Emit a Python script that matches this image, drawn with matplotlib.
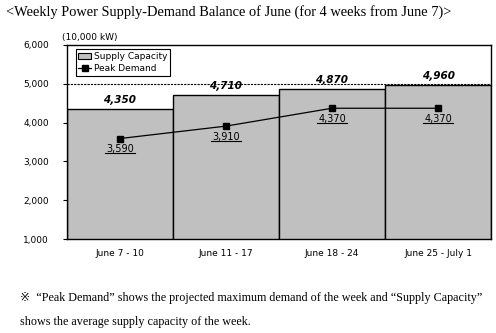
import matplotlib
matplotlib.use("Agg")
import matplotlib.pyplot as plt
from matplotlib.patches import Patch
from matplotlib.lines import Line2D

# data
weeks = ["June 7 - 10", "June 11 - 17", "June 18 - 24", "June 25 - July 1"]
supply = [4350, 4710, 4870, 4960]
demand = [3590, 3910, 4370, 4370]
yticks = [1000, 2000, 3000, 4000, 5000, 6000]

fig = plt.figure(figsize=(4.96, 3.33), dpi=100)
ax = fig.add_axes([0.135, 0.282, 0.855, 0.583])

x = list(range(len(weeks)))
ax.bar(x, supply, width=1.0, color="#c0c0c0", edgecolor="black", linewidth=1.0, zorder=2)
ax.plot(x, demand, color="black", linewidth=0.9, marker="s", markersize=4, zorder=4)
ax.axhline(5000, color="black", linewidth=0.8, linestyle=(0, (2, 1)), zorder=1)

for i, v in enumerate(supply):
    ax.annotate(f"{v:,}", (i, v), xytext=(0, 3), textcoords="offset points",
                ha="center", va="bottom", fontsize=7.5, fontweight="bold",
                fontstyle="italic", zorder=5)
dem_txt = []
for i, v in enumerate(demand):
    t = ax.annotate(f"{v:,}", (i, v), xytext=(0, -4), textcoords="offset points",
                    ha="center", va="top", fontsize=7, zorder=5)
    dem_txt.append(t)

ax.set_xlim(-0.5, len(weeks) - 0.5)
ax.set_ylim(1000, 6000)
ax.set_yticks(yticks)
ax.set_yticklabels([f"{t:,}" for t in yticks], fontsize=6.5)
ax.set_xticks(x)
ax.set_xticklabels(weeks, fontsize=6.5)
ax.tick_params(axis="x", length=0, pad=7)
ax.tick_params(axis="y", length=3, pad=10)
for sp in ax.spines.values():
    sp.set_linewidth(1.0)

ax.text(-0.55, 6080, "(10,000 kW)", fontsize=6.5, ha="left", va="bottom")

handles = [Patch(facecolor="#c0c0c0", edgecolor="black", linewidth=0.8, label="Supply Capacity"),
           Line2D([0], [0], color="black", marker="s", markersize=4, linewidth=0.9, label="Peak Demand")]
leg = ax.legend(handles=handles, loc="upper left", fontsize=6.5, fancybox=False,
                edgecolor="black", framealpha=1, borderpad=0.3, labelspacing=0.3,
                handlelength=1.4, handletextpad=0.3, bbox_to_anchor=(0.01, 1.0))
leg.get_frame().set_linewidth(0.8)

serif = ["Liberation Serif", "DejaVu Serif", "DejaVu Sans"]
fig.text(0.012, 0.965, "<Weekly Power Supply-Demand Balance of June (for 4 weeks from June 7)>",
         fontsize=10.4, family=serif, ha="left", va="center")
fig.text(0.04, 0.105, "\u203b  \u201cPeak Demand\u201d shows the projected maximum demand of the week and \u201cSupply Capacity\u201d",
         fontsize=8.7, family=serif, ha="left", va="center")
fig.text(0.04, 0.032, "shows the average supply capacity of the week.",
         fontsize=8.7, family=serif, ha="left", va="center")

# underline the peak demand labels
fig.canvas.draw()
r = fig.canvas.get_renderer()
for t in dem_txt:
    bb = t.get_window_extent(r)
    fig.add_artist(Line2D([bb.x0 - 1, bb.x1 + 1], [bb.y0 + 1, bb.y0 + 1], color="black",
                          linewidth=0.8, transform=None))

fig.savefig("out.png", dpi=100)
